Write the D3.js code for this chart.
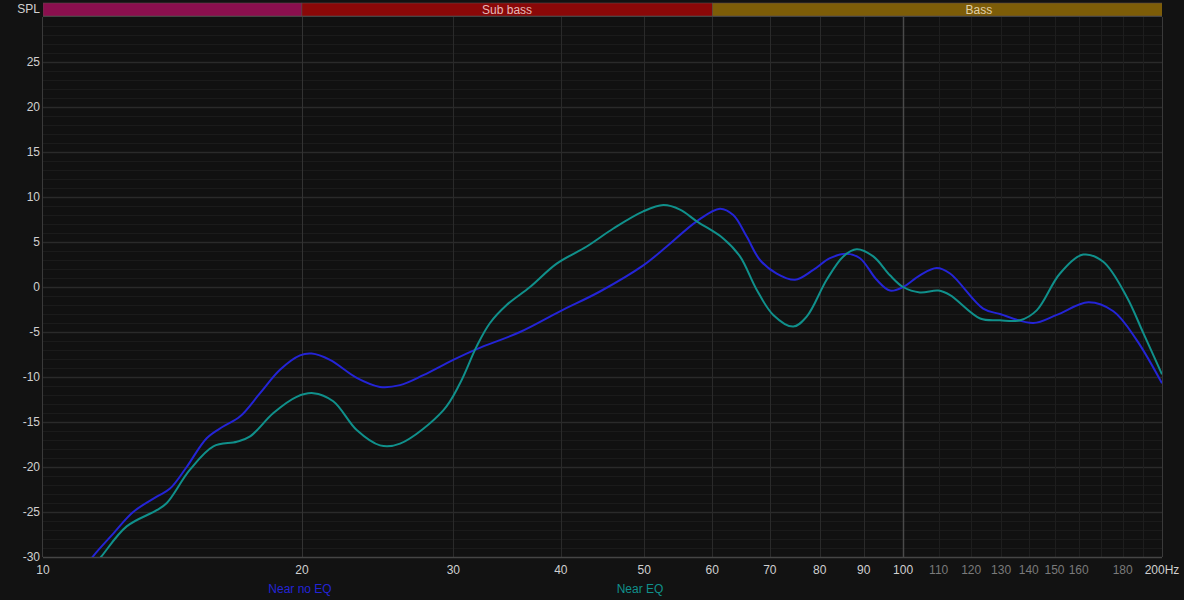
<!DOCTYPE html>
<html><head><meta charset="utf-8">
<script src="https://cdn.jsdelivr.net/npm/d3@7"></script>
<style>
html,body{margin:0;padding:0;background:#121212;}
svg{display:block;font-family:"Liberation Sans",Arial,sans-serif;}
</style></head>
<body><svg id="c" width="1184" height="600"></svg>
<script>
// ---- data ----
const noEqFreq = [11.04, 11.44, 12.07, 12.73, 13.56, 14.05, 14.69, 15.50, 16.20, 16.94, 17.88, 18.86, 19.90, 20.53, 21.56, 23.16, 24.65, 26.01, 27.68, 29.99, 31.93, 35.86, 39.91, 44.42, 49.88, 53.11, 57.55, 61.25, 63.47, 65.79, 68.17, 71.29, 74.87, 78.63, 82.22, 85.98, 89.10, 93.18, 96.55, 100.0, 104.6, 109.4, 113.4, 123.9, 129.6, 141.7, 150.9, 164.2, 175.6, 186.9, 200];
const noEqDb = [-32, -29.9, -27.4, -25.0, -23.3, -22.4, -20.0, -16.8, -15.5, -14.4, -11.8, -9.2, -7.6, -7.4, -8.1, -10.1, -11.1, -10.9, -9.8, -8.1, -6.9, -5.0, -2.7, -0.5, 2.4, 4.5, 7.3, 8.7, 8.0, 5.6, 3.0, 1.5, 0.8, 1.9, 3.2, 3.7, 3.2, 0.8, -0.4, 0.0, 1.3, 2.1, 1.5, -2.4, -3.0, -4.0, -3.1, -1.7, -2.7, -5.9, -10.7];
const eqFreq = [11.34, 11.70, 12.51, 13.56, 13.93, 14.82, 15.78, 16.80, 17.41, 18.53, 19.72, 20.62, 21.75, 23.16, 24.65, 26.01, 29.20, 30.54, 31.93, 33.09, 34.60, 36.83, 39.56, 42.87, 46.04, 49.88, 52.63, 55.03, 57.55, 61.79, 64.62, 67.57, 70.64, 74.53, 77.25, 81.50, 85.21, 88.32, 92.33, 96.55, 100.0, 104.6, 109.9, 113.4, 122.9, 129.6, 136.8, 143.0, 152.2, 162.0, 170.9, 182.0, 190.2, 200];
const eqDb = [-31.5, -29.9, -26.6, -24.8, -24.0, -20.3, -17.7, -17.2, -16.6, -14.0, -12.2, -11.8, -12.7, -15.9, -17.6, -17.4, -13.7, -10.7, -6.6, -4.0, -2.0, 0.0, 2.6, 4.5, 6.5, 8.4, 9.1, 8.6, 7.3, 5.4, 3.4, -0.3, -3.1, -4.4, -3.3, 0.8, 3.4, 4.2, 3.4, 1.3, 0.0, -0.6, -0.4, -0.9, -3.5, -3.7, -3.7, -2.6, 1.5, 3.6, 2.8, -1.1, -5.1, -9.7];
const seriesNames = ["Near no EQ", "Near EQ"];
const bandNames = ["", "Sub bass", "Bass"];
const bandStart = [1, 20, 60];
const bandEnd = [20, 60, 250];
const yTicks = [-30, -25, -20, -15, -10, -5, 0, 5, 10, 15, 20, 25];
const xMajorTicks = [10, 20, 30, 40, 50, 60, 70, 80, 90, 100];
const xMinorTicks = [110, 120, 130, 140, 150, 160, 180];
const xMinorLines = [110, 120, 130, 140, 150, 160, 170, 180, 190];

// ---- layout ----
const L = 43, R = 1162, T = 17, B = 557;
const svg = d3.select("#c");
const x = d3.scaleLog().domain([10, 200]).range([L, R]);
const y = d3.scaleLinear().domain([-30, 30]).range([B, T]);

svg.append("rect").attr("x", L).attr("y", T).attr("width", R - L).attr("height", B - T).attr("fill", "#111111");

const g = svg.append("g");
// minor horizontal
g.selectAll(".hm").data(d3.range(-29, 30)).join("line")
  .attr("x1", L).attr("x2", R).attr("y1", d => y(d) + 0.5).attr("y2", d => y(d) + 0.5)
  .attr("stroke", "#1b1b1b").attr("stroke-width", 1);
// major horizontal
g.selectAll(".hM").data(d3.range(-25, 30, 5)).join("line")
  .attr("x1", L).attr("x2", R).attr("y1", d => y(d) + 0.5).attr("y2", d => y(d) + 0.5)
  .attr("stroke", "#2a2a2a").attr("stroke-width", 1.5);
// vertical minor
g.selectAll(".vm").data(xMinorLines).join("line")
  .attr("y1", T).attr("y2", B).attr("x1", d => Math.round(x(d)) + 0.5).attr("x2", d => Math.round(x(d)) + 0.5)
  .attr("stroke", "#1e1e1e").attr("stroke-width", 1);
// vertical major
g.selectAll(".vM").data(xMajorTicks.slice(1)).join("line")
  .attr("y1", T).attr("y2", B).attr("x1", d => Math.round(x(d)) + 0.5).attr("x2", d => Math.round(x(d)) + 0.5)
  .attr("stroke", d => d === 100 ? "#4a4a4a" : (d === 20 ? "#333" : "#2a2a2a")).attr("stroke-width", d => d === 100 ? 1.5 : 1);

// frame
svg.append("line").attr("x1", L - 0.5).attr("x2", L - 0.5).attr("y1", T).attr("y2", B).attr("stroke", "#3a3a3a");
svg.append("line").attr("x1", R + 0.5).attr("x2", R + 0.5).attr("y1", T).attr("y2", B).attr("stroke", "#3a3a3a");
svg.append("line").attr("x1", L).attr("x2", R).attr("y1", B + 0.5).attr("y2", B + 0.5).attr("stroke", "#454545").attr("stroke-width", 1.5);

// bands
svg.append("defs").append("clipPath").attr("id", "bandclip").append("rect")
  .attr("x", L).attr("y", 0).attr("width", R - L).attr("height", 30);
svg.append("clipPath").attr("id", "plotclip").append("rect")
  .attr("x", L).attr("y", T).attr("width", R - L).attr("height", B - T);
const bandColors = ["#8a0f4e", "#8a0808", "#7d5d08"];
const bandText = ["#e0b0c0", "#e6b8b8", "#e0d0a8"];
const bg = svg.append("g").attr("clip-path", "url(#bandclip)");
const bands = bandNames.map((n, i) => ({ n, s: bandStart[i], e: bandEnd[i], c: bandColors[i], t: bandText[i] }));
bg.selectAll("rect").data(bands).join("rect")
  .attr("x", d => Math.max(L, x(d.s))).attr("y", 3)
  .attr("width", d => x(d.e) - Math.max(L, x(d.s))).attr("height", 13)
  .attr("fill", d => d.c).attr("stroke", "#5a4a4a").attr("stroke-width", 0.6);
bg.selectAll("text").data(bands).join("text")
  .attr("x", d => (x(d.s) + x(d.e)) / 2).attr("y", 14)
  .attr("text-anchor", "middle").attr("font-size", 12).attr("fill", d => d.t).text(d => d.n);
svg.append("line").attr("x1", L).attr("x2", R).attr("y1", 16.5).attr("y2", 16.5).attr("stroke", "#444");

// y labels
svg.selectAll(".yl").data(yTicks).join("text")
  .attr("x", 40).attr("y", d => y(d) + 4).attr("text-anchor", "end")
  .attr("font-size", 12).attr("fill", "#d0d0d0").text(d => d);
svg.append("text").attr("x", 40).attr("y", 13).attr("text-anchor", "end")
  .attr("font-size", 12).attr("fill", "#d0d0d0").text("SPL");

// x labels
svg.selectAll(".xl").data(xMajorTicks).join("text")
  .attr("x", d => x(d)).attr("y", 574).attr("text-anchor", "middle")
  .attr("font-size", 12).attr("fill", "#d0d0d0").text(d => d);
svg.selectAll(".xm").data(xMinorTicks).join("text")
  .attr("x", d => x(d)).attr("y", 574).attr("text-anchor", "middle")
  .attr("font-size", 12).attr("fill", "#7a7a7a").text(d => d);
svg.append("text").attr("x", x(200)).attr("y", 574).attr("text-anchor", "middle")
  .attr("font-size", 12).attr("fill", "#d0d0d0").text("200Hz");

// curves
const colors = ["#2424d6", "#10908b"];
const series = [
  { f: noEqFreq, v: noEqDb },
  { f: eqFreq, v: eqDb }
];
const line = d3.line().x(d => x(d[0])).y(d => y(d[1])).curve(d3.curveCatmullRom.alpha(0.5));
const cg = svg.append("g").attr("clip-path", "url(#plotclip)");
series.forEach((s, i) => {
  const pts = s.f.map((f, j) => [f, s.v[j]]);
  cg.append("path").attr("d", line(pts)).attr("fill", "none")
    .attr("stroke", colors[i]).attr("stroke-width", 2).attr("stroke-linejoin", "round");
});

// legend
const legX = [300, 640];
svg.selectAll(".lg").data(seriesNames).join("text")
  .attr("x", (d, i) => legX[i]).attr("y", 593).attr("text-anchor", "middle")
  .attr("font-size", 12).attr("fill", (d, i) => colors[i]).text(d => d);
</script></body></html>
